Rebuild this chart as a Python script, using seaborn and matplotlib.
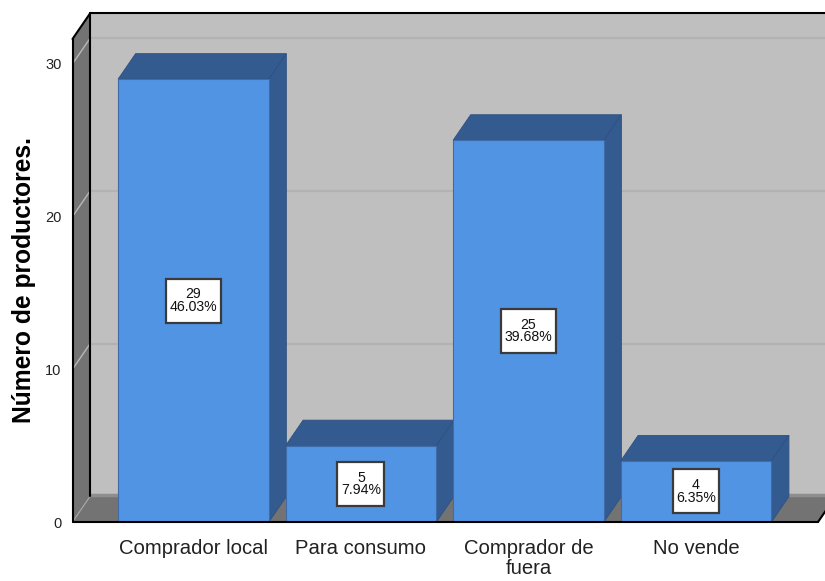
import matplotlib
matplotlib.use("Agg")
import matplotlib.pyplot as plt
from matplotlib.patches import Polygon, Rectangle
import pandas as pd
import seaborn as sns

categories = ["Comprador local", "Para consumo", "Comprador de\nfuera", "No vende"]
counts = [29, 5, 25, 4]
percents = ["46.03%", "7.94%", "39.68%", "6.35%"]
y_ticks = [0, 10, 20, 30]
ylabel = "Número de productores."

W, H = 825, 581
sns.set_theme(style="white")
plt.rcParams["font.family"] = ["Liberation Sans", "DejaVu Sans"]
fig = plt.figure(figsize=(W / 100, H / 100), dpi=100, facecolor="white")
ax = fig.add_axes([72.5 / W, 1 - 522 / H, (818 - 72.5) / W, (522 - 39) / H])

df = pd.DataFrame({"cat": categories, "n": counts})
sns.barplot(data=df, x="cat", y="n", color="#5294E4", saturation=1, width=0.9,
            edgecolor="#3F6CA8", linewidth=0.8, ax=ax, zorder=3)
ax.set_xlim(-0.722, 3.728)
ax.set_ylim(0, 31.63)
x0, x1 = ax.get_xlim()
y0, y1 = ax.get_ylim()
dx = 17.5 / 167.5
dy = 25.5 / 15.27

WALL, SIDE, DARK = "#BFBFBF", "#737373", "#345B8F"


def poly(pts, fc, z, ec="none", lw=0):
    ax.add_patch(Polygon(pts, closed=True, fc=fc, ec=ec, lw=lw, zorder=z, clip_on=False))


def line(xs, ys, color="black", lw=1.5, z=1.5):
    ax.plot(xs, ys, color=color, lw=lw, zorder=z, clip_on=False, solid_capstyle="round")


# chart box: back wall, left wall and floor
poly([(x0 + dx, y0 + dy), (x1 + dx, y0 + dy), (x1 + dx, y1 + dy), (x0 + dx, y1 + dy)], WALL, 0.1)
poly([(x0, y0), (x0 + dx, y0 + dy), (x0 + dx, y1 + dy), (x0, y1)], SIDE, 0.2)
poly([(x0, y0), (x1, y0), (x1 + dx, y0 + dy), (x0 + dx, y0 + dy)], SIDE, 0.2)
line([x0 + dx, x1 + dx], [y0 + dy * 1.06] * 2, "#8E8E8E", 2.5, 0.3)

for t in y_ticks[1:]:
    line([x0 + dx, x1 + dx], [t + dy] * 2, "#B2B2B2", 1.6, 0.4)
    line([x0, x0 + dx], [t, t + dy], "#B8B8B8", 1.0, 0.4)
line([x0, x0 + dx], [y0, y0 + dy], "#A8A8A8", 0.8, 0.4)

line([x0 + dx, x0 + dx], [y0 + dy, y1 + dy], z=1)
line([x0 + dx, x1 + dx], [y1 + dy, y1 + dy], z=1)
line([x0, x0 + dx], [y1, y1 + dy], z=1)
line([x0, x0], [y0, y1], z=1)
line([x1, x1 + dx], [y0, y0 + dy], z=1)
line([x0, x1], [y0, y0], z=4)

# bar depth faces and value boxes
labels = []
for bar, n, pct in zip(ax.patches, counts, percents):
    xa, xb = bar.get_x(), bar.get_x() + bar.get_width()
    h = bar.get_height()
    poly([(xa, h), (xb, h), (xb + dx, h + dy), (xa + dx, h + dy)], DARK, 2, "#2E5080", 0.6)
    poly([(xb, 0), (xb + dx, dy), (xb + dx, h + dy), (xb, h)], DARK, 2, "#2E5080", 0.6)
    labels.append(ax.text((xa + xb) / 2, h / 2, f"{n}\n{pct}", ha="center", va="center",
                          fontsize=10.2, linespacing=0.85, color="#111111", zorder=6))

ax.set_xticks(range(len(categories)), categories)
ax.set_yticks(y_ticks, [str(t) for t in y_ticks])
ax.tick_params(axis="x", length=0, pad=12, labelsize=14.6, labelcolor="#222222")
ax.tick_params(axis="y", length=0, pad=8, labelsize=10.5, labelcolor="#222222")
for t in ax.get_xticklabels():
    t.set_linespacing(1.12)
ax.set_xlabel("")
ax.set_ylabel(ylabel, fontsize=17.7, fontweight="bold", color="black", labelpad=0)
ax.yaxis.set_label_coords((36 - 72.5) / (818 - 72.5), (522 - 280) / (522 - 39))
for s in ax.spines.values():
    s.set_visible(False)
ax.grid(False)

fig.canvas.draw()
r = fig.canvas.get_renderer()
for t in labels:
    e = t.get_window_extent(r)
    cy = (e.y0 + e.y1) / 2
    ax.add_patch(Rectangle((e.x0 - 3.5, cy - 22), e.width + 7, 44, transform=None, fc="white",
                           ec="#3A3A3A", lw=1.6, zorder=5, clip_on=False))

fig.savefig("out.png", dpi=100)
